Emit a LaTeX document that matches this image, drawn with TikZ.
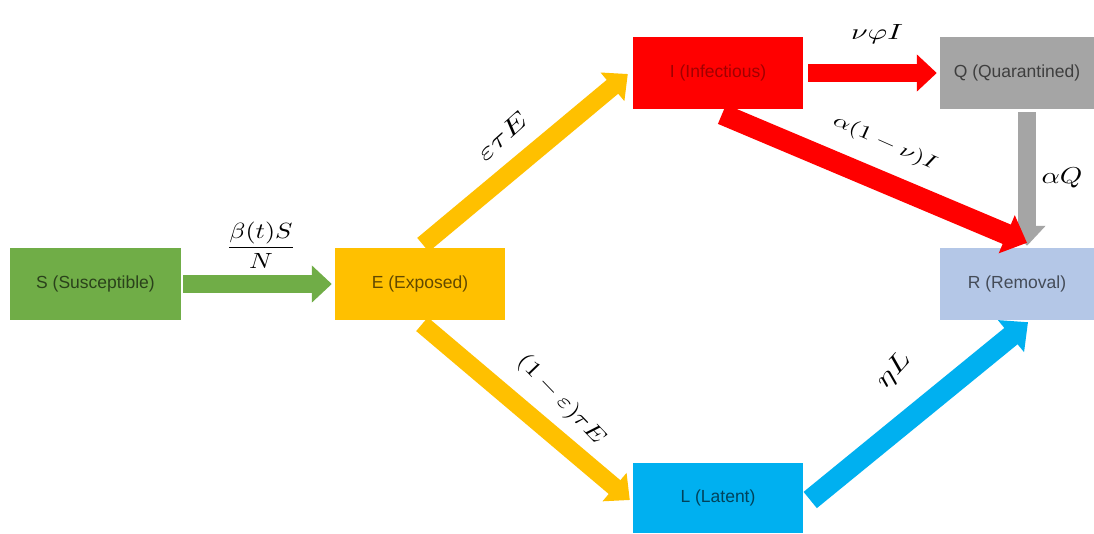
\documentclass[tikz,border=0pt]{standalone}
\usepackage{fontspec}
\setsansfont{Liberation Sans}
\usetikzlibrary{arrows.meta,calc}
\definecolor{cS}{HTML}{70AD47}
\definecolor{cE}{HTML}{FFC000}
\definecolor{cI}{HTML}{FF0000}
\definecolor{cQ}{HTML}{A5A5A5}
\definecolor{cR}{HTML}{B4C7E7}
\definecolor{cL}{HTML}{00B0F0}
\begin{document}
\begin{tikzpicture}[x=1pt,y=-1pt,
  box/.style={rectangle, inner sep=0pt, minimum height=72pt, font=\sffamily\fontsize{17.5}{20}\selectfont, text opacity=0.62},
  flow/.style={line width=18pt, -{Triangle[length=20pt,width=36pt]}},
  wideflow/.style={line width=21pt, -{Triangle[length=22pt,width=40pt]}},
  mlab/.style={inner sep=0pt}]
\useasboundingbox (0,0) rectangle (1094,533);
\fill[white] (0,0) rectangle (1094,533);

% compartments
\node[box, fill=cS, minimum width=171pt] (S) at (95.5,284) {S (Susceptible)};
\node[box, fill=cE, minimum width=170pt] (E) at (420,284) {E (Exposed)};
\node[box, fill=cI, minimum width=170pt, text=black!60!red] (I) at (718,73) {I (Infectious)};
\node[box, fill=cQ, minimum width=154pt] (Q) at (1017,73) {Q (Quarantined)};
\node[box, fill=cR, minimum width=154pt] (R) at (1017,284) {R (Removal)};
\node[box, fill=cL, minimum width=170pt, minimum height=70pt] (L) at (718,498) {L (Latent)};

% flows
\draw[flow, cS] ($(S.east)+(2,0)$) -- ($(E.west)+(-3,0)$);
\draw[flow, cE] ($(E.north)+(3,-3)$) -- ($(I.west)+(-5,1)$);
\draw[flow, cE] ($(E.south)+(2,4)$) -- ($(L.west)+(-3,2)$);
\draw[flow, cI] ($(I.east)+(5,0)$) -- ($(Q.west)+(-3,0)$);
\draw[flow, cQ] ($(Q.south)+(10,3)$) -- ($(R.north)+(10,-2)$);
\draw[wideflow, cI] ($(I.south)+(4,5)$) -- ($(R.north)+(10,-5)$);
\draw[wideflow, cL] ($(L.east)+(7,2)$) -- ($(R.south)+(11,2)$);

% rates
\node[mlab] (lSE) at (261,245) {\scalebox{2.6}[2.2]{$\displaystyle\frac{\beta(t)S}{N}$}};
\node[mlab, rotate=42] (lEI) at (502,136) {\scalebox{3.3}[2.4]{$\varepsilon\tau E$}};
\node[mlab, rotate=-46] (lEL) at (561,400) {\scalebox{2.7}[2.2]{$(1-\varepsilon)\tau E$}};
\node[mlab] (lIQ) at (877,34) {\scalebox{3.0}[2.2]{$\nu\varphi I$}};
\node[mlab, rotate=-24] (lIR) at (885,143) {\scalebox{2.65}[1.9]{$\alpha(1-\nu)I$}};
\node[mlab] (lQR) at (1062,178) {\scalebox{2.85}[2.3]{$\alpha Q$}};
\node[mlab, rotate=48] (lLR) at (894,371) {\scalebox{3.3}[2.5]{$\eta L$}};
\end{tikzpicture}
\end{document}
